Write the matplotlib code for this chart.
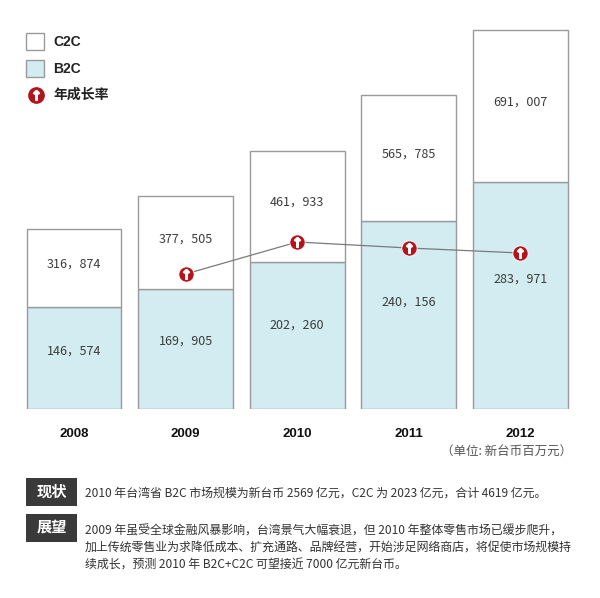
"""Taiwan B2C / C2C market size 2008-2012, stacked bars with growth markers."""
import matplotlib
matplotlib.use("Agg")
import matplotlib.pyplot as plt
from matplotlib.patches import Rectangle
from matplotlib.lines import Line2D

plt.rcParams["font.family"] = ["Noto Sans CJK SC", "DejaVu Sans"]

years = ["2008", "2009", "2010", "2011", "2012"]
c2c = [316874, 377505, 461933, 565785, 691007]        # label values (百万元)
b2c = [146574, 169905, 202260, 240156, 283971]
# drawn height of the blue segment as it appears in the picture (not to scale with its label)
b2c_bar = [262000, 308000, 378000, 483000, 584000]
growth_years = ["2009", "2010", "2011", "2012"]
growth_pct = [18.1, 21.3, 20.7, 20.2]

EDGE = "#9a9a9a"
BLUE = "#d2ecf1"
RED = "#b3141c"
TXT = "#3c3c3c"

fig = plt.figure(figsize=(6.0, 5.98), dpi=100)
W, H = 600, 598

def frac_box(x0, y_top, x1, y_bot):
    return [x0 / W, 1 - y_bot / H, (x1 - x0) / W, (y_bot - y_top) / H]

# bar axes: y=0 at pixel 409, 1,000,000 at pixel 20
ax = fig.add_axes(frac_box(0, 20, 600, 409))
x = list(range(len(years)))
totals = [a + b for a, b in zip(c2c, b2c)]
c2c_bar = [t - b for t, b in zip(totals, b2c_bar)]
width = 0.85
ax.bar(x, b2c_bar, width, color=BLUE, edgecolor=EDGE, linewidth=1.0, zorder=2)
ax.bar(x, c2c_bar, width, bottom=b2c_bar, color="white", edgecolor=EDGE,
       linewidth=1.0, zorder=2)
for i in x:
    ax.text(i, b2c_bar[i] + c2c_bar[i] / 2 + 10000, f"{c2c[i]:,}".replace(",", "，"),
            ha="center", va="center", fontsize=9, color=TXT, zorder=3)
    ax.text(i, b2c_bar[i] * 0.57, f"{b2c[i]:,}".replace(",", "，"),
            ha="center", va="center", fontsize=9, color=TXT, zorder=3)
ax.set_xlim(-74 / 111.6, (600 - 74) / 111.6)
ax.set_ylim(0, 1000000)
ax.axis("off")

# growth-rate markers on a hidden twin axis
ax2 = ax.twinx()
gx = [years.index(y) for y in growth_years]
ax2.plot(gx, growth_pct, color="#7a7a7a", linewidth=0.9, zorder=4)
ax2.plot(gx, growth_pct, "o", color=RED, markersize=11, markeredgecolor="white",
         markeredgewidth=0.6, zorder=5)
ax2.plot(gx, growth_pct, marker=r"$\mathbf{\uparrow}$", linestyle="none", color="white",
         markersize=7, zorder=6)
ax2.set_ylim(4.6, 43.5)
ax2.axis("off")

# overlay in pixel coords for legend, year labels and notes
ov = fig.add_axes([0, 0, 1, 1])
ov.set_xlim(0, W)
ov.set_ylim(H, 0)
ov.axis("off")

ov.add_patch(Rectangle((26, 33), 18, 17, facecolor="white", edgecolor=EDGE, lw=1.0))
ov.add_patch(Rectangle((26, 60), 18, 17, facecolor=BLUE, edgecolor=EDGE, lw=1.0))
ov.add_line(Line2D([35.5], [95], marker="o", color=RED, markersize=11))
ov.add_line(Line2D([35.5], [95], marker=r"$\mathbf{\uparrow}$", color="white", markersize=7))
leg_font = dict(fontsize=10, fontweight="bold", color="#222222", va="center", ha="left")
ov.text(53, 42, "C2C", family=["Liberation Sans", "DejaVu Sans"], **leg_font)
ov.text(53, 69, "B2C", family=["Liberation Sans", "DejaVu Sans"], **leg_font)
ov.text(53, 95, "年成长率", **leg_font)

for i, yr in enumerate(years):
    ov.text(74 + 111.6 * i, 434, yr, ha="center", va="center", fontsize=9.5,
            fontweight="bold", family=["Liberation Sans", "DejaVu Sans"], color="#111111")

ov.text(572, 452, "（单位: 新台币百万元）", ha="right", va="center", fontsize=9, color="#555555")

for y0, label in [(478, "现状"), (514, "展望")]:
    ov.add_patch(Rectangle((26, y0), 51, 28, facecolor="#3a3a3a", edgecolor="none"))
    ov.text(51.5, y0 + 14, label, ha="center", va="center", fontsize=11,
            fontweight="bold", color="white")

body = dict(fontsize=8.6, color="#333333", ha="left", va="center")
ov.text(85, 493, "2010 年台湾省 B2C 市场规模为新台币 2569 亿元，C2C 为 2023 亿元，合计 4619 亿元。", **body)
ov.text(85, 531, "2009 年虽受全球金融风暴影响，台湾景气大幅衰退，但 2010 年整体零售市场已缓步爬升，", **body)
ov.text(85, 548, "加上传统零售业为求降低成本、扩充通路、品牌经营，开始涉足网络商店，将促使市场规模持", **body)
ov.text(85, 565, "续成长，预测 2010 年 B2C+C2C 可望接近 7000 亿元新台币。", **body)

fig.savefig("out.png", dpi=100)
